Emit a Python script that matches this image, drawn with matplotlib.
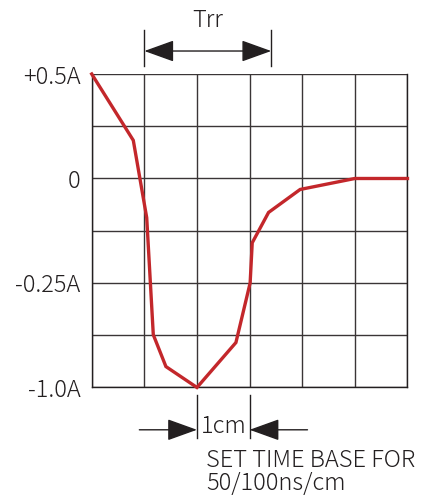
import numpy as np
import matplotlib
matplotlib.use("Agg")
from matplotlib import pyplot as plt
from matplotlib.patches import FancyArrowPatch, ArrowStyle

# curve in grid units (1 division per unit)
curve_x = [0.0, 0.79, 1.045, 1.17, 1.41, 2.0, 2.74, 3.01, 3.05, 3.36, 3.96, 5.0, 6.0]
curve_y = [2.0, 0.73, -0.75, -2.99, -3.6, -4.0, -3.14, -2.0, -1.23, -0.65, -0.21, 0.0, 0.0]

ytick_pos = [2, 0, -2, -4]
ytick_labels = ["+0.5A", "0", "-0.25A", "-1.0A"]

trr_span = [1.0, 3.41]
cm_span = [2.0, 3.0]

INK = "#231f20"
RED = "#c3272b"
FONT = ["Noto Sans CJK JP", "DejaVu Sans"]
FS = 17
plt.rcParams['font.family'] = FONT
plt.rcParams['font.weight'] = 300

fig = plt.figure(figsize=(4.25, 4.96), dpi=100)
ax = fig.add_axes([0.2158, 0.2188, 0.743, 0.632])
ax.set_xlim(0, 6)
ax.set_ylim(-4, 2)
ax.set_xticks(np.arange(0, 7))
ax.set_yticks(ytick_pos)
ax.set_yticklabels(ytick_labels, fontsize=FS, color=INK)
ax.set_yticks(np.arange(-4, 3), minor=True)
ax.grid(True, which="both", color="#3a3536", lw=1.0)
ax.tick_params(which="both", length=0, pad=8, labelbottom=False)
for s in ax.spines.values():
    s.set_color(INK)
    s.set_linewidth(1.0)
ax.spines["top"].set_visible(False)

ax.plot(curve_x, curve_y, color=RED, lw=2.4, clip_on=False, solid_joinstyle="miter", zorder=5)


def arrow(x0, x1, y, style):
    a = FancyArrowPatch((x0, y), (x1, y), arrowstyle=ArrowStyle(style, head_length=1.25, head_width=0.45),
                        mutation_scale=15, shrinkA=0, shrinkB=0, color=INK, lw=1.0, clip_on=False)
    ax.add_patch(a)


def vtick(x, y0, y1):
    ax.plot([x, x], [y0, y1], color=INK, lw=1.0, clip_on=False)


# Trr marker
arrow(trr_span[0], trr_span[1], 2.44, "<|-|>")
for x in trr_span:
    vtick(x, 2.15, 2.85)
ax.text(sum(trr_span) / 2, 3.03, "Trr", ha="center", va="center", fontsize=FS, color=INK, clip_on=False)

# 1cm marker
arrow(0.905, cm_span[0], -4.81, "-|>")
arrow(4.10, cm_span[1], -4.81, "-|>")
for x in cm_span:
    vtick(x, -4.14, -4.96)
ax.text(sum(cm_span) / 2, -4.75, "1cm", ha="center", va="center", fontsize=FS, color=INK, clip_on=False)

ax.text(2.17, -5.52, "SET TIME BASE FOR", ha="left", va="baseline", fontsize=FS, color=INK, clip_on=False)
ax.text(2.17, -5.96, "50/100ns/cm", ha="left", va="baseline", fontsize=FS, color=INK, clip_on=False)

fig.savefig("out.png", dpi=100)
